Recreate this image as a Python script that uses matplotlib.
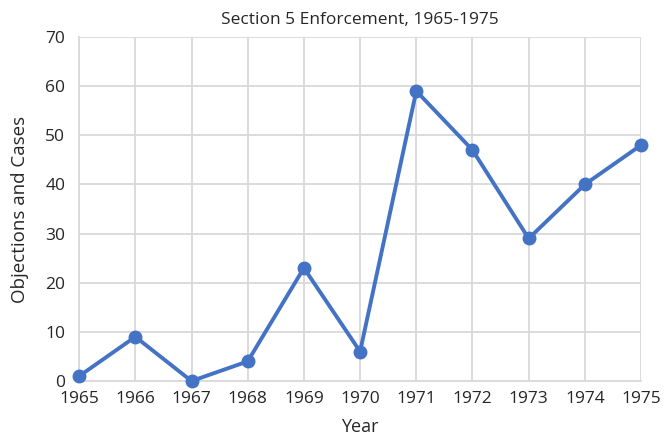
import matplotlib
matplotlib.use("Agg")
import matplotlib.pyplot as plt

years = [1965, 1966, 1967, 1968, 1969, 1970, 1971, 1972, 1973, 1974, 1975]
values = [1, 9, 0, 4, 23, 6, 59, 47, 29, 40, 48]
yticks = [0, 10, 20, 30, 40, 50, 60, 70]

plt.rcParams['font.family'] = ['Open Sans', 'DejaVu Sans']

fig = plt.figure(figsize=(6.65, 4.40), dpi=100)
ax = fig.add_axes([0.119, 0.134, 0.845, 0.782])

ax.plot(years, values, color='#4472C4', linewidth=2.8, marker='o', markersize=9,
        zorder=3, clip_on=False)

ax.set_xlim(1965, 1975)
ax.set_ylim(0, 70)
ax.set_xticks(years)
ax.set_yticks(yticks)
ax.grid(True, color='#d9d9d9', linewidth=1.3)
ax.set_axisbelow(True)
for s in ['top', 'right']:
    ax.spines[s].set_visible(False)
for s in ['left', 'bottom']:
    ax.spines[s].set_color('#d9d9d9')
    ax.spines[s].set_linewidth(1.3)
ax.tick_params(axis='x', length=0, labelsize=12.5, colors='#262626', pad=7)
ax.tick_params(axis='y', length=0, labelsize=12.5, colors='#262626', pad=10)

ax.set_title('Section 5 Enforcement, 1965-1975', fontsize=12.5, color='#262626', pad=9)
ax.set_xlabel('Year', fontsize=13, color='#262626', labelpad=8)
ax.set_ylabel('Objections and Cases', fontsize=13.5, color='#262626', labelpad=12)

fig.savefig('out.png', dpi=100)
